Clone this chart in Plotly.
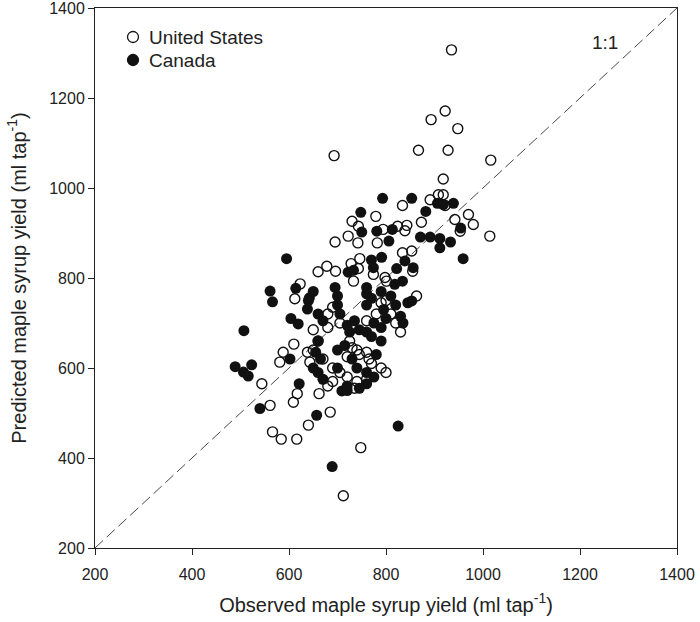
import plotly.graph_objects as go

us_x = [935, 922, 893, 948, 867, 928, 1016, 693, 918,
        834, 779, 730, 743, 722, 742, 695, 782, 794, 824, 839, 843, 746, 660, 678, 696, 728, 743, 834, 853, 798, 801, 733, 774,
        891, 908, 918, 922, 873, 942, 970, 980, 953, 1014, 855,
        623, 612, 610, 588, 581, 638, 544, 643,
        561, 617, 609, 640, 566, 584, 616, 662, 685, 748, 712, 863,
        680, 690, 705, 680, 650, 660, 650, 670, 690, 705, 720, 730, 740, 745, 720, 725,
        760, 765, 790, 800, 770, 680, 690, 740, 735, 760, 800, 810, 820, 830, 760, 780, 790]
us_y = [1307, 1171, 1152, 1132, 1084, 1084, 1062, 1072, 1020,
        961, 937, 926, 915, 893, 878, 880, 878, 908, 915, 905, 917, 843, 814, 826, 815, 832, 821, 856, 860, 801, 793, 793, 808,
        974, 985, 985, 961, 924, 930, 941, 919, 904, 893, 815,
        787, 754, 653, 635, 613, 635, 565, 613,
        517, 543, 524, 473, 458, 442, 442, 543, 502, 423, 316, 760,
        720, 735, 700, 690, 685, 660, 640, 620, 600, 590, 580, 645, 640, 630, 625, 660,
        635, 620, 600, 590, 610, 560, 570, 570, 555, 575, 750, 720, 700, 680, 705, 720, 745]

ca_x = [793, 853, 748, 750, 781, 813, 806, 791, 770, 774, 822, 839, 856, 722, 733, 695, 760, 818, 834,
        906, 918, 939, 882, 954, 871, 891, 911, 911, 933, 959,
        595, 614, 561, 566, 642, 638, 604, 619, 507, 602, 489, 506, 516, 523, 621,
        540, 657, 709, 825, 689, 853,
        650, 640, 660, 670, 700, 700, 705, 720, 735, 760, 770, 760, 775, 790, 795, 800, 810, 820, 830, 845, 835,
        725, 745, 760, 770, 790, 660, 655, 665, 650, 660, 670, 700, 715, 730, 740, 760, 775, 760, 700, 720, 780, 790, 720, 745]
ca_y = [977, 977, 946, 902, 904, 908, 882, 846, 840, 823, 821, 838, 823, 813, 817, 779, 779, 786, 793,
        966, 963, 966, 948, 911, 891, 891, 888, 867, 880, 843,
        843, 777, 771, 747, 756, 731, 710, 698, 683, 620, 603, 591, 582, 607, 565,
        510, 495, 549, 471, 381, 749,
        770, 750, 720, 705, 760, 740, 720, 695, 705, 765, 755, 740, 700, 770, 730, 710, 760, 740, 715, 745, 700,
        680, 685, 680, 670, 690, 660, 635, 620, 600, 590, 575, 640, 650, 620, 600, 590, 580, 565, 600, 560, 630, 660, 550, 555]

legend_labels = ["United States", "Canada"]
axis_range = [200, 1400]
tick_vals = [200, 400, 600, 800, 1000, 1200, 1400]
FONT = "Liberation Sans, Arial, sans-serif"
INK = "#222222"

W, H = 700, 622
ML, MR, MT, MB = 95, 23, 8, 74
PW, PH = W - ML - MR, H - MT - MB


def px_to_paper(px, py):
    return (px - ML) / PW, (H - MB - py) / PH


fig = go.Figure()
fig.add_trace(go.Scatter(x=axis_range, y=axis_range, mode="lines",
                         line=dict(color="#333333", width=0.9, dash="11px,5px"),
                         showlegend=False, hoverinfo="skip"))
fig.add_trace(go.Scatter(x=us_x, y=us_y, mode="markers", name=legend_labels[0],
                         showlegend=False,
                         marker=dict(symbol="circle-open", size=10, color="#111111",
                                     line=dict(width=1.4, color="#111111"))))
fig.add_trace(go.Scatter(x=ca_x, y=ca_y, mode="markers", name=legend_labels[1],
                         showlegend=False,
                         marker=dict(symbol="circle", size=11, color="#111111",
                                     line=dict(width=0))))

shapes = []
annotations = []
for i, (lab, filled) in enumerate(zip(legend_labels, [False, True])):
    cy = 37 + 23 * i
    sx, sy = px_to_paper(133, cy)
    tx, _ = px_to_paper(147, cy)
    shapes.append(dict(type="circle", xref="paper", yref="paper",
                       xsizemode="pixel", ysizemode="pixel",
                       xanchor=sx, yanchor=sy, x0=-5.5, x1=5.5, y0=-5.5, y1=5.5,
                       line=dict(color="#111111", width=1.3),
                       fillcolor="#111111" if filled else "white"))
    annotations.append(dict(text=lab, x=tx, y=sy, xref="paper", yref="paper",
                            showarrow=False, xanchor="left", yanchor="middle",
                            font=dict(family=FONT, size=19, color=INK)))

ox, oy = px_to_paper(605, 42)
annotations.append(dict(text="1:1", x=ox, y=oy, xref="paper", yref="paper",
                        showarrow=False, font=dict(family=FONT, size=19, color=INK),
                        xanchor="center", yanchor="middle"))

axis_common = dict(range=axis_range, tickvals=tick_vals, showgrid=False, zeroline=False,
                   showline=True, linecolor=INK, linewidth=1, mirror=True,
                   ticks="outside", ticklen=6, tickcolor=INK, ticklabeloverflow="allow",
                   automargin=False,
                   tickfont=dict(family=FONT, size=16, color=INK))

fig.update_layout(
    width=W, height=H,
    margin=dict(l=ML, r=MR, t=MT, b=MB, autoexpand=False),
    plot_bgcolor="white", paper_bgcolor="white",
    font=dict(family=FONT, color=INK),
    showlegend=False,
    xaxis=dict(**axis_common, ticklabelstandoff=6,
               title=dict(text="Observed maple syrup yield (ml tap<sup>-1</sup>)",
                          font=dict(family=FONT, size=20), standoff=15)),
    yaxis=dict(**axis_common,
               title=dict(text="Predicted maple syrup yield (ml tap<sup>-1</sup>)",
                          font=dict(family=FONT, size=20), standoff=17)),
    shapes=shapes,
    annotations=annotations,
)

fig.write_html("out.html", config={"displayModeBar": False},
               post_script="document.body.style.margin='0';")
